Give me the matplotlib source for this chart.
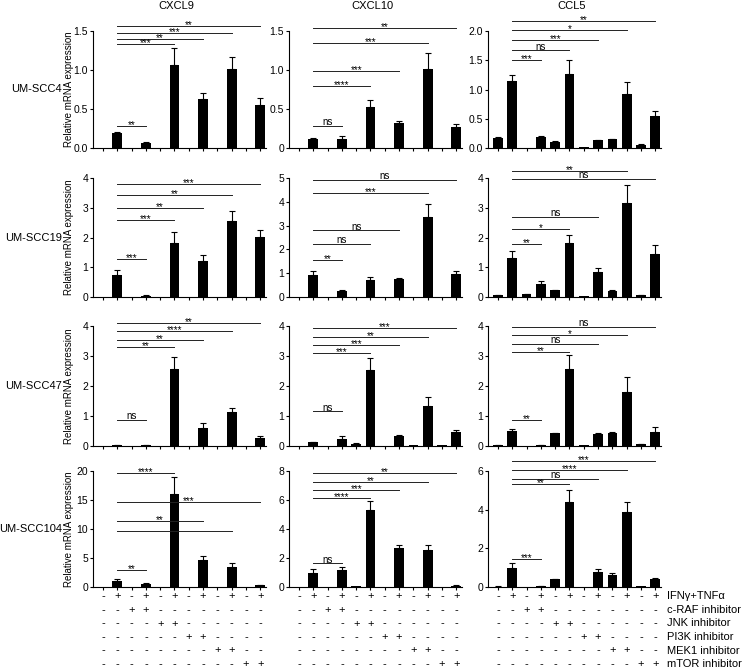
import numpy as np
import matplotlib.pyplot as plt
from matplotlib import transforms

plt.rcParams['font.family'] = ['Liberation Sans', 'DejaVu Sans']

genes = ['CXCL9', 'CXCL10', 'CCL5']
cell_lines = ['UM-SCC4', 'UM-SCC19', 'UM-SCC47', 'UM-SCC104']
treatments = ['IFNγ+TNFα', 'c-RAF inhibitor', 'JNK inhibitor',
              'PI3K inhibitor', 'MEK1 inhibitor', 'mTOR inhibitor']
treatment_rows = ['-+-+-+-+-+-+',
                  '--++--------',
                  '----++------',
                  '------++----',
                  '--------++--',
                  '----------++']

# UM-SCC4
scc4_cxcl9 = [0, 0.19, 0, 0.07, 0, 1.06, 0, 0.63, 0, 1.01, 0, 0.55]
scc4_cxcl9_err = [0, 0.02, 0, 0.01, 0, 0.22, 0, 0.08, 0, 0.16, 0, 0.09]
scc4_cxcl10 = [0, 0.12, 0, 0.12, 0, 0.53, 0, 0.32, 0, 1.01, 0, 0.27]
scc4_cxcl10_err = [0, 0.01, 0, 0.03, 0, 0.09, 0, 0.03, 0, 0.21, 0, 0.04]
scc4_ccl5 = [0.17, 1.15, 0, 0.18, 0.11, 1.27, 0.01, 0.13, 0.15, 0.92, 0.05, 0.55]
scc4_ccl5_err = [0.02, 0.09, 0, 0.02, 0.01, 0.23, 0, 0.01, 0.01, 0.21, 0.01, 0.09]

# UM-SCC19
scc19_cxcl9 = [0, 0.75, 0, 0.05, 0, 1.8, 0, 1.22, 0, 2.54, 0, 2.03]
scc19_cxcl9_err = [0, 0.15, 0, 0.01, 0, 0.37, 0, 0.2, 0, 0.35, 0, 0.22]
scc19_cxcl10 = [0.01, 0.93, 0, 0.24, 0, 0.72, 0, 0.74, 0.01, 3.37, 0.01, 0.97]
scc19_cxcl10_err = [0, 0.17, 0, 0.06, 0, 0.11, 0, 0.05, 0, 0.55, 0, 0.11]
scc19_ccl5 = [0.07, 1.3, 0.09, 0.44, 0.23, 1.8, 0.03, 0.83, 0.2, 3.16, 0.07, 1.45]
scc19_ccl5_err = [0.01, 0.25, 0.01, 0.1, 0.01, 0.3, 0, 0.14, 0.02, 0.6, 0.01, 0.3]

# UM-SCC47
scc47_cxcl9 = [0, 0.02, 0, 0.03, 0, 2.56, 0, 0.61, 0, 1.14, 0, 0.28]
scc47_cxcl9_err = [0, 0.01, 0, 0.01, 0, 0.42, 0, 0.15, 0, 0.14, 0, 0.04]
scc47_cxcl10 = [0.01, 0.13, 0, 0.22, 0.08, 2.54, 0, 0.33, 0.03, 1.35, 0.03, 0.48]
scc47_cxcl10_err = [0, 0.02, 0, 0.13, 0.01, 0.39, 0, 0.03, 0, 0.29, 0, 0.07]
scc47_ccl5 = [0.03, 0.5, 0, 0.02, 0.42, 2.57, 0.02, 0.39, 0.45, 1.79, 0.07, 0.47]
scc47_ccl5_err = [0.01, 0.08, 0, 0.01, 0.03, 0.47, 0, 0.06, 0.03, 0.5, 0.01, 0.15]

# UM-SCC104
scc104_cxcl9 = [0, 0.97, 0, 0.57, 0, 16.1, 0, 4.57, 0, 3.43, 0, 0.3]
scc104_cxcl9_err = [0, 0.33, 0, 0.12, 0, 2.9, 0, 0.69, 0, 0.74, 0, 0.05]
scc104_cxcl10 = [0, 0.97, 0, 1.19, 0.05, 5.33, 0, 2.7, 0.03, 2.54, 0, 0.1]
scc104_cxcl10_err = [0, 0.27, 0, 0.16, 0, 0.63, 0, 0.18, 0, 0.34, 0, 0.02]
scc104_ccl5 = [0.02, 1.0, 0, 0.05, 0.39, 4.39, 0.02, 0.79, 0.61, 3.9, 0.03, 0.39]
scc104_ccl5_err = [0.01, 0.23, 0, 0.01, 0.02, 0.61, 0, 0.14, 0.09, 0.52, 0, 0.05]

# significance brackets: (end position, height, label), all start at position 1
scc4_cxcl9_sig = [(3, 0.28, '**'), (5, 1.33, '***'), (7, 1.40, '**'), (9, 1.47, '***'), (11, 1.56, '**')]
scc4_cxcl10_sig = [(3, 0.28, 'ns'), (5, 0.79, '****'), (7, 0.99, '***'), (9, 1.35, '***'), (11, 1.54, '**')]
scc4_ccl5_sig = [(3, 1.5, '***'), (5, 1.67, 'ns'), (7, 1.85, '***'), (9, 2.02, '*'), (11, 2.17, '**')]
scc19_cxcl9_sig = [(3, 1.29, '***'), (5, 2.6, '***'), (7, 2.99, '**'), (9, 3.43, '**'), (11, 3.8, '***')]
scc19_cxcl10_sig = [(3, 1.56, '**'), (5, 2.22, 'ns'), (7, 2.8, 'ns'), (9, 4.35, '***'), (11, 4.93, 'ns')]
scc19_ccl5_sig = [(3, 1.78, '**'), (5, 2.3, '*'), (7, 2.69, 'ns'), (11, 3.96, 'ns'), (9, 4.23, '**')]
scc47_cxcl9_sig = [(3, 0.87, 'ns'), (5, 3.29, '**'), (7, 3.53, '**'), (9, 3.83, '****'), (11, 4.11, '**')]
scc47_cxcl10_sig = [(3, 1.16, 'ns'), (5, 3.09, '***'), (7, 3.37, '***'), (9, 3.65, '**'), (11, 3.92, '***')]
scc47_ccl5_sig = [(3, 0.88, '**'), (5, 3.14, '**'), (7, 3.4, 'ns'), (9, 3.69, '*'), (11, 3.98, 'ns')]
scc104_cxcl9_sig = [(3, 2.86, '**'), (9, 9.7, '**'), (7, 11.3, '**'), (11, 14.6, '***'), (5, 19.7, '****')]
scc104_cxcl10_sig = [(3, 1.64, 'ns'), (5, 6.13, '****'), (7, 6.7, '***'), (9, 7.26, '**'), (11, 7.87, '**')]
scc104_ccl5_sig = [(3, 1.46, '***'), (5, 5.35, '**'), (7, 5.6, 'ns'), (9, 6.05, '****'), (11, 6.5, '***')]

# y ticks for each row / gene
yticks = [
    [[0, 0.5, 1.0, 1.5], [0, 0.5, 1.0, 1.5], [0, 0.5, 1.0, 1.5, 2.0]],
    [[0, 1, 2, 3, 4], [0, 1, 2, 3, 4, 5], [0, 1, 2, 3, 4]],
    [[0, 1, 2, 3, 4], [0, 1, 2, 3, 4], [0, 1, 2, 3, 4]],
    [[0, 5, 10, 15, 20], [0, 2, 4, 6, 8], [0, 2, 4, 6]],
]
yticklabels = [
    [['0.0', '0.5', '1.0', '1.5'], ['0', '0.5', '1.0', '1.5'], ['0.0', '0.5', '1.0', '1.5', '2.0']],
    None, None, None,
]

panels = [
    [(scc4_cxcl9, scc4_cxcl9_err, scc4_cxcl9_sig), (scc4_cxcl10, scc4_cxcl10_err, scc4_cxcl10_sig),
     (scc4_ccl5, scc4_ccl5_err, scc4_ccl5_sig)],
    [(scc19_cxcl9, scc19_cxcl9_err, scc19_cxcl9_sig), (scc19_cxcl10, scc19_cxcl10_err, scc19_cxcl10_sig),
     (scc19_ccl5, scc19_ccl5_err, scc19_ccl5_sig)],
    [(scc47_cxcl9, scc47_cxcl9_err, scc47_cxcl9_sig), (scc47_cxcl10, scc47_cxcl10_err, scc47_cxcl10_sig),
     (scc47_ccl5, scc47_ccl5_err, scc47_ccl5_sig)],
    [(scc104_cxcl9, scc104_cxcl9_err, scc104_cxcl9_sig), (scc104_cxcl10, scc104_cxcl10_err, scc104_cxcl10_sig),
     (scc104_ccl5, scc104_ccl5_err, scc104_ccl5_sig)],
]

W, H = 744, 670
col_left = [93, 289, 488]
col_width = 173
row_top = [31, 178, 326, 471]
row_bottom = [148, 297, 446, 587]


def draw_panel(ax, vals, errs, sig, ticks, labels):
    x = np.arange(len(vals))
    vals = np.array(vals, dtype=float)
    errs = np.array(errs, dtype=float)
    ax.bar(x, vals, width=0.68, color='black')
    m = errs > 0
    ax.errorbar(x[m], vals[m], yerr=[np.zeros(m.sum()), errs[m]], fmt='none',
                ecolor='black', elinewidth=0.8, capsize=2, capthick=0.8)
    for end, y, label in sig:
        ax.plot([1, end], [y, y], color='#222222', lw=0.7, clip_on=False)
        off = 0.5 if label == 'ns' else -1.5
        ax.annotate(label, ((1 + end) / 2, y), xytext=(0, off), textcoords='offset points',
                    ha='center', va='baseline', fontsize=7, annotation_clip=False)
    ax.set_xlim(-0.7, 11.4)
    ax.set_ylim(ticks[0], ticks[-1])
    ax.set_xticks(x)
    ax.set_xticklabels([])
    ax.set_yticks(ticks)
    if labels is not None:
        ax.set_yticklabels(labels)
    for s in ['top', 'right']:
        ax.spines[s].set_visible(False)
    for s in ['left', 'bottom']:
        ax.spines[s].set_linewidth(0.8)
    ax.tick_params(length=2.5, width=0.8, labelsize=7.5, pad=1)


fig = plt.figure(figsize=(W / 100, H / 100), dpi=100)

bottom_axes = []
for r in range(4):
    for c in range(3):
        rect = [col_left[c] / W, 1 - row_bottom[r] / H, col_width / W,
                (row_bottom[r] - row_top[r]) / H]
        ax = fig.add_axes(rect)
        vals, errs, sig = panels[r][c]
        labels = yticklabels[r][c] if yticklabels[r] is not None else None
        draw_panel(ax, vals, errs, sig, yticks[r][c], labels)
        if r == 3:
            bottom_axes.append(ax)
    yc = 1 - (row_top[r] + row_bottom[r]) / 2 / H
    fig.text(62 / W, yc, cell_lines[r], ha='right', va='center', fontsize=8)
    fig.text(69 / W, yc, 'Relative mRNA expression', ha='center', va='center',
             rotation=90, fontsize=7)

for c, gene in enumerate(genes):
    fig.text((col_left[c] + col_width / 2 - 3) / W, 1 - 6 / H, gene,
             ha='center', va='center', fontsize=8)

# treatment table under the bottom row
table_y = [596, 610, 623.5, 637, 650.5, 664]
for ax in bottom_axes:
    trans = transforms.blended_transform_factory(ax.transData, fig.transFigure)
    for row, y in zip(treatment_rows, table_y):
        for i, sign in enumerate(row):
            ax.text(i, 1 - y / H, sign, transform=trans, ha='center', va='center',
                    fontsize=8, clip_on=False)

for name, y in zip(treatments, table_y):
    fig.text(667 / W, 1 - y / H, name, ha='left', va='center', fontsize=8)

fig.savefig('out.png', dpi=100)
